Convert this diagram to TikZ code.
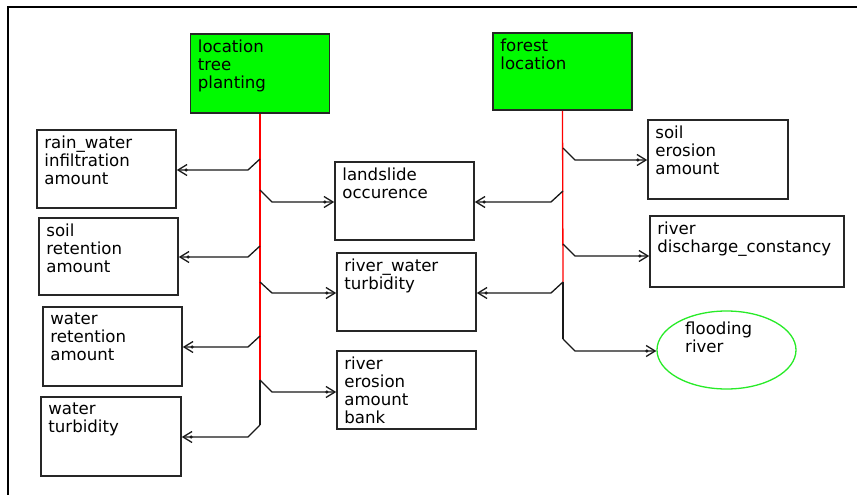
\documentclass[tikz,border=0pt]{standalone}
\usepackage{fontspec}
\setmainfont{DejaVu Sans}
\usetikzlibrary{arrows.meta,shapes.geometric}
\definecolor{rootgreen}{RGB}{0,250,0}
\definecolor{ovalgreen}{RGB}{40,235,40}
\begin{document}
\begin{tikzpicture}[x=1pt,y=-1pt,
  box/.style={draw=black!85, line width=1.6pt, fill=white, inner sep=0pt,
    minimum width=139pt, minimum height=78pt},
  rootbox/.style={box, fill=rootgreen},
  txt/.style={font=\fontsize{16.6}{18}\selectfont, align=left, inner sep=0pt,
    anchor=north west, xshift=8pt, yshift=-6pt},
  trunk/.style={line width=1.3pt, red},
  stem/.style={line width=1.3pt, black!90},
  link/.style={line width=1.3pt, black!90,
    -{Circle[length=3pt,sep=-3pt]Straight Barb[length=9pt,width=11pt]}},
  frame/.style={line width=2.6pt, black}]
\useasboundingbox[fill=white] (0,0) rectangle (857,495);
\draw[frame] (8,495) -- (8,7) -- (857,7);

% root concepts
\node[rootbox, minimum height=79pt] (loc) at (260,73.5) {};
\node[txt] at (loc.north west) {location\\tree\\planting};
\node[rootbox, minimum height=77pt] (for) at (562.5,71.5) {};
\node[txt] at (for.north west) {forest\\location};

% left column
\node[box] (rain) at (106.5,169) {};
\node[txt] at (rain.north west) {rain\_water\\infiltration\\amount};
\node[box, minimum height=77pt] (sret) at (108.5,256.5) {};
\node[txt] at (sret.north west) {soil\\retention\\amount};
\node[box, minimum height=79pt] (wret) at (112.5,346.5) {};
\node[txt] at (wret.north west) {water\\retention\\amount};
\node[box, minimum width=140pt, minimum height=79pt] (wtur) at (111,436.5) {};
\node[txt] at (wtur.north west) {water\\turbidity};

% middle column
\node[box] (slide) at (404.5,201) {};
\node[txt] at (slide.north west) {landslide\\occurence};
\node[box] (rwat) at (406.5,292) {};
\node[txt] at (rwat.north west) {river\_water\\turbidity};
\node[box] (rbank) at (406.5,390) {};
\node[txt] at (rbank.north west) {river\\erosion\\amount\\bank};

% right column
\node[box, minimum width=140pt, minimum height=79pt] (seros) at (718,159.5) {};
\node[txt] at (seros.north west) {soil\\erosion\\amount};
\node[box, minimum width=194pt, minimum height=71pt] (disc) at (747,251.5) {};
\node[txt] at (disc.north west) {river\\discharge\_constancy};
\node[ellipse, draw=ovalgreen, line width=1.3pt, inner sep=0pt,
  minimum width=139pt, minimum height=78pt] (flood) at (726.5,350) {};
\node[txt, xshift=0pt, yshift=0pt] at (677,316) {flooding\\river};

% trunks
\coordinate (l1) at (260,159);
\coordinate (l2) at (260,190);
\coordinate (l3) at (260,246);
\coordinate (l4) at (260,282);
\coordinate (l5) at (260,336);
\coordinate (l6) at (260,380);
\coordinate (l7) at (260,425);
\coordinate (r1) at (563,148);
\coordinate (r2) at (563,191);
\coordinate (r3) at (563,244);
\coordinate (r4) at (563,282);
\coordinate (r5) at (563,339);

\draw[trunk] (loc.south) -- (l6);
\draw[stem] (l6) -- (l7);
\draw[trunk] (for.south) -- (r4);
\draw[stem] (r4) -- (r5);

% branches of the left trunk
\draw[link] (l1) -- ++(-12,11) coordinate (k) -- (k -| rain.east);
\draw[link] (l2) -- ++(12,12) coordinate (k) -- (k -| slide.west);
\draw[link] (l3) -- ++(-12,11) coordinate (k) -- (k -| sret.east);
\draw[link] (l4) -- ++(12,11) coordinate (k) -- (k -| rwat.west);
\draw[link] (l5) -- ++(-12,11) coordinate (k) -- (k -| wret.east);
\draw[link] (l6) -- ++(12,12) coordinate (k) -- (k -| rbank.west);
\draw[link] (l7) -- ++(-12,12) coordinate (k) -- (k -| wtur.east);

% branches of the right trunk
\draw[link] (r1) -- ++(12,12) coordinate (k) -- (k -| seros.west);
\draw[link] (r2) -- ++(-12,11) coordinate (k) -- (k -| slide.east);
\draw[link] (r3) -- ++(12,12) coordinate (k) -- (k -| disc.west);
\draw[link] (r4) -- ++(-12,11) coordinate (k) -- (k -| rwat.east);
\draw[link] (r5) -- ++(12,12) coordinate (k) -- (k -| flood.west);
\end{tikzpicture}
\end{document}
